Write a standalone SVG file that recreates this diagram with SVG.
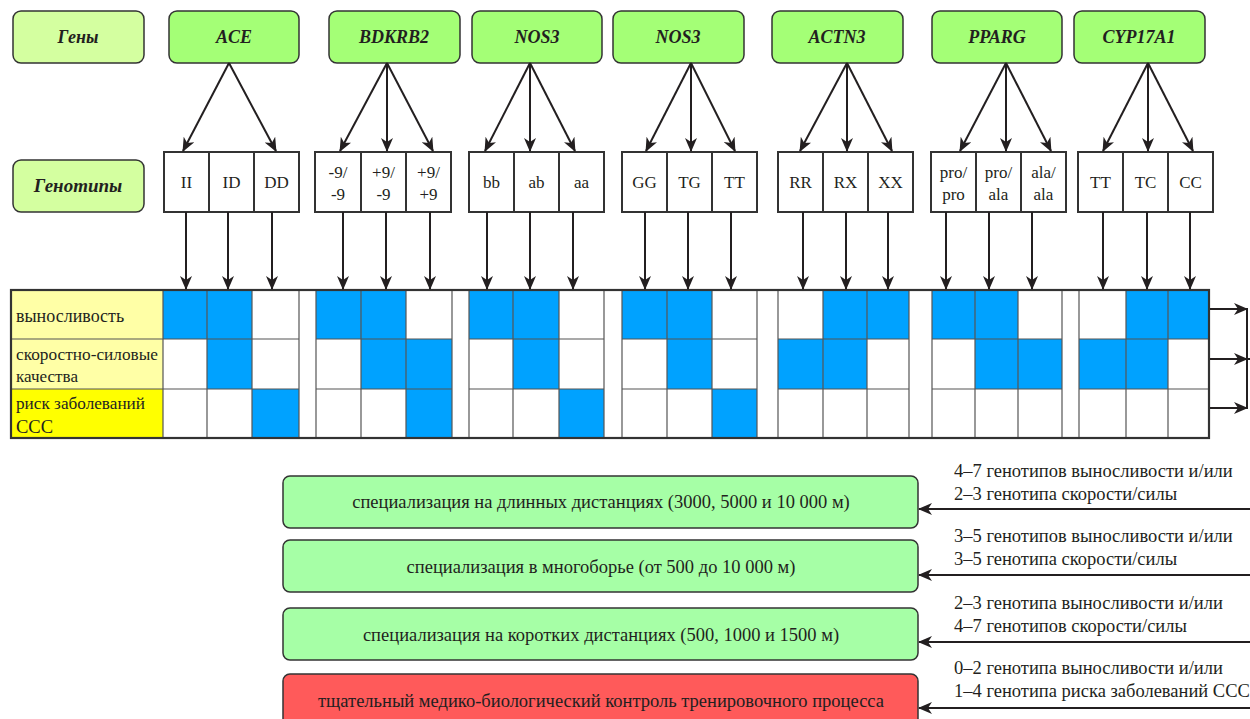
<svg xmlns="http://www.w3.org/2000/svg" width="1250" height="719" viewBox="0 0 1250 719">
<defs>
<marker id="ah" markerUnits="userSpaceOnUse" markerWidth="14" markerHeight="12" refX="13" refY="6" orient="auto">
<path d="M0,0 L14,6 L0,12 L4,6 Z" fill="#231f20"/>
</marker>
<style>
.gene{fill:#a4ff76;stroke:#333;stroke-width:1.5}
.lbl{fill:#d4ffa0;stroke:#333;stroke-width:1.5}
.gt{fill:#fff;stroke:#333;stroke-width:2}
.gn{font-family:"Liberation Serif",serif;font-weight:bold;font-style:italic;font-size:18px;fill:#231f20;text-anchor:middle}
.g{font-family:"Liberation Serif",serif;font-size:17px;fill:#231f20;text-anchor:middle}
.t{font-family:"Liberation Serif",serif;font-size:18.5px;fill:#231f20}
.r{font-family:"Liberation Serif",serif;font-size:17.5px;fill:#231f20}
.tc{font-family:"Liberation Serif",serif;font-size:18.5px;fill:#231f20;text-anchor:middle}
.b{fill:#00a2ff}
.cl{stroke:#555;stroke-width:1.2;fill:none}
.ar{stroke:#231f20;stroke-width:2;fill:none;marker-end:url(#ah)}
.ln{stroke:#231f20;stroke-width:2;fill:none}
.res{fill:#a6ffa6;stroke:#333;stroke-width:1.5}
.red{fill:#ff5a5a;stroke:#333;stroke-width:1.5}
</style>
</defs>
<rect width="1250" height="719" fill="#fff"/>

<g id="label-genes"><rect class="lbl" x="13" y="11" width="131" height="52" rx="8"/><text class="gn" x="78" y="43">Гены</text></g>
<g id="label-genotypes"><rect class="lbl" x="13" y="160" width="131" height="52" rx="8"/><text class="gn" x="78" y="192" style="font-size:19px">Генотипы</text></g>

<g id="gene-ACE"><rect class="gene" x="169" y="11" width="130" height="52" rx="8"/><text class="gn" x="234" y="43">ACE</text></g>
<g id="gene-BDKRB2"><rect class="gene" x="329" y="11" width="131" height="52" rx="8"/><text class="gn" x="394" y="43">BDKRB2</text></g>
<g id="gene-NOS3a"><rect class="gene" x="472" y="11" width="130" height="52" rx="8"/><text class="gn" x="537" y="43">NOS3</text></g>
<g id="gene-NOS3b"><rect class="gene" x="613" y="11" width="131" height="52" rx="8"/><text class="gn" x="678" y="43">NOS3</text></g>
<g id="gene-ACTN3"><rect class="gene" x="772" y="11" width="131" height="52" rx="8"/><text class="gn" x="837" y="43">ACTN3</text></g>
<g id="gene-PPARG"><rect class="gene" x="932" y="11" width="130" height="52" rx="8"/><text class="gn" x="997" y="43">PPARG</text></g>
<g id="gene-CYP17A1"><rect class="gene" x="1074" y="11" width="131" height="52" rx="8"/><text class="gn" x="1139" y="43">CYP17A1</text></g>

<g id="gt-ACE">
<rect class="gt" x="164" y="152" width="45" height="60"/><rect class="gt" x="209" y="152" width="45" height="60"/><rect class="gt" x="254" y="152" width="45" height="60"/>
<text class="g" x="186.5" y="188">II</text><text class="g" x="231.5" y="188">ID</text><text class="g" x="276.5" y="188">DD</text>
</g>
<g id="gt-BDKRB2">
<rect class="gt" x="315" y="152" width="46" height="60"/><rect class="gt" x="361" y="152" width="45" height="60"/><rect class="gt" x="406" y="152" width="45" height="60"/>
<text class="g" x="338" y="178">-9/</text><text class="g" x="338" y="200">-9</text>
<text class="g" x="383.5" y="178">+9/</text><text class="g" x="383.5" y="200">-9</text>
<text class="g" x="428.5" y="178">+9/</text><text class="g" x="428.5" y="200">+9</text>
</g>
<g id="gt-NOS3a">
<rect class="gt" x="469" y="152" width="45" height="60"/><rect class="gt" x="514" y="152" width="45" height="60"/><rect class="gt" x="559" y="152" width="45" height="60"/>
<text class="g" x="491.5" y="188">bb</text><text class="g" x="536.5" y="188">ab</text><text class="g" x="581.5" y="188">aa</text>
</g>
<g id="gt-NOS3b">
<rect class="gt" x="622" y="152" width="45" height="60"/><rect class="gt" x="667" y="152" width="45" height="60"/><rect class="gt" x="712" y="152" width="45" height="60"/>
<text class="g" x="644.5" y="188">GG</text><text class="g" x="689.5" y="188">TG</text><text class="g" x="734.5" y="188">TT</text>
</g>
<g id="gt-ACTN3">
<rect class="gt" x="778" y="152" width="45" height="60"/><rect class="gt" x="823" y="152" width="45" height="60"/><rect class="gt" x="868" y="152" width="45" height="60"/>
<text class="g" x="800.5" y="188">RR</text><text class="g" x="845.5" y="188">RX</text><text class="g" x="890.5" y="188">XX</text>
</g>
<g id="gt-PPARG">
<rect class="gt" x="931" y="152" width="45" height="60"/><rect class="gt" x="976" y="152" width="45" height="60"/><rect class="gt" x="1021" y="152" width="45" height="60"/>
<text class="g" x="953.5" y="178">pro/</text><text class="g" x="953.5" y="200">pro</text>
<text class="g" x="998.5" y="178">pro/</text><text class="g" x="998.5" y="200">ala</text>
<text class="g" x="1043.5" y="178">ala/</text><text class="g" x="1043.5" y="200">ala</text>
</g>
<g id="gt-CYP17A1">
<rect class="gt" x="1078" y="152" width="45" height="60"/><rect class="gt" x="1123" y="152" width="45" height="60"/><rect class="gt" x="1168" y="152" width="45" height="60"/>
<text class="g" x="1100.5" y="188">TT</text><text class="g" x="1145.5" y="188">TC</text><text class="g" x="1190.5" y="188">CC</text>
</g>

<g id="grid">
<rect x="11" y="290" width="152" height="49" fill="#ffffa6"/>
<rect x="11" y="339" width="152" height="50" fill="#ffffa6"/>
<rect x="11" y="389" width="152" height="49" fill="#ffff00"/>
<text class="r" x="16" y="322" style="font-size:18px">выносливость</text>
<text class="r" x="16" y="360" textLength="142" lengthAdjust="spacingAndGlyphs">скоростно-силовые</text>
<text class="r" x="16" y="382" textLength="62" lengthAdjust="spacingAndGlyphs">качества</text>
<text class="r" x="16" y="409" textLength="129" lengthAdjust="spacingAndGlyphs">риск заболеваний</text>
<text class="r" x="16" y="433" style="font-size:18.5px">ССС</text>
<!-- ACE -->
<rect class="b" x="163" y="290" width="44" height="49"/><rect class="b" x="207" y="290" width="45" height="49"/>
<rect class="b" x="207" y="339" width="45" height="50"/>
<rect class="b" x="252" y="389" width="47" height="49"/>
<!-- BDKRB2 -->
<rect class="b" x="316" y="290" width="45" height="49"/><rect class="b" x="361" y="290" width="45" height="49"/>
<rect class="b" x="361" y="339" width="45" height="50"/><rect class="b" x="406" y="339" width="46" height="50"/>
<rect class="b" x="406" y="389" width="46" height="49"/>
<!-- NOS3a -->
<rect class="b" x="469" y="290" width="44" height="49"/><rect class="b" x="513" y="290" width="46" height="49"/>
<rect class="b" x="513" y="339" width="46" height="50"/>
<rect class="b" x="559" y="389" width="45" height="49"/>
<!-- NOS3b -->
<rect class="b" x="622" y="290" width="45" height="49"/><rect class="b" x="667" y="290" width="45" height="49"/>
<rect class="b" x="667" y="339" width="45" height="50"/>
<rect class="b" x="712" y="389" width="45" height="49"/>
<!-- ACTN3 -->
<rect class="b" x="823" y="290" width="44" height="49"/><rect class="b" x="867" y="290" width="42" height="49"/>
<rect class="b" x="778" y="339" width="45" height="50"/><rect class="b" x="823" y="339" width="44" height="50"/>
<!-- PPARG -->
<rect class="b" x="932" y="290" width="43" height="49"/><rect class="b" x="975" y="290" width="43" height="49"/>
<rect class="b" x="975" y="339" width="43" height="50"/><rect class="b" x="1018" y="339" width="44" height="50"/>
<!-- CYP17A1 -->
<rect class="b" x="1126" y="290" width="42" height="49"/><rect class="b" x="1168" y="290" width="41" height="49"/>
<rect class="b" x="1079" y="339" width="47" height="50"/><rect class="b" x="1126" y="339" width="42" height="50"/>
<path class="cl" d="M11,339H299M316,339H452M469,339H604M622,339H757M778,339H909M932,339H1062M1079,339H1209
M11,389H299M316,389H452M469,389H604M622,389H757M778,389H909M932,389H1062M1079,389H1209"/>
<path class="cl" d="M163,290V438M207,290V438M252,290V438M299,290V438M316,290V438M361,290V438M406,290V438M452,290V438
M469,290V438M513,290V438M559,290V438M604,290V438M622,290V438M667,290V438M712,290V438M757,290V438
M778,290V438M823,290V438M867,290V438M909,290V438M932,290V438M975,290V438M1018,290V438M1062,290V438
M1079,290V438M1126,290V438M1168,290V438"/>
<rect x="11" y="290" width="1198" height="148" fill="none" stroke="#333" stroke-width="2.2"/>
</g>

<g id="res-long"><rect class="res" x="283" y="476" width="635" height="52" rx="7"/><text class="tc" x="601" y="508">специализация на длинных дистанциях (3000, 5000 и 10 000 м)</text></g>
<g id="res-multi"><rect class="res" x="283" y="540" width="635" height="52" rx="7"/><text class="tc" x="601" y="573">специализация в многоборье (от 500 до 10 000 м)</text></g>
<g id="res-short"><rect class="res" x="283" y="608" width="635" height="52" rx="7"/><text class="tc" x="601" y="641">специализация на коротких дистанциях (500, 1000 и 1500 м)</text></g>
<g id="res-control"><rect class="red" x="283" y="674" width="635" height="60" rx="7"/><text class="tc" x="601" y="707">тщательный медико-биологический контроль тренировочного процесса</text></g>

<g id="connectors">
<path class="ar" d="M229,63L183,151"/><path class="ar" d="M229,63L276,151"/>
<path class="ar" d="M387,63L340,151"/><path class="ar" d="M387,63V151"/><path class="ar" d="M387,63L433,151"/>
<path class="ar" d="M530,63L485,151"/><path class="ar" d="M530,63V151"/><path class="ar" d="M530,63L575,151"/>
<path class="ar" d="M691,63L646,151"/><path class="ar" d="M691,63V151"/><path class="ar" d="M691,63L735,151"/>
<path class="ar" d="M847,63L800,151"/><path class="ar" d="M847,63V151"/><path class="ar" d="M847,63L892,151"/>
<path class="ar" d="M1006,63L960,151"/><path class="ar" d="M1006,63V151"/><path class="ar" d="M1006,63L1051,151"/>
<path class="ar" d="M1148,63L1103,151"/><path class="ar" d="M1148,63V151"/><path class="ar" d="M1148,63L1193,151"/>

<path class="ar" d="M186,212V289"/><path class="ar" d="M228,212V289"/><path class="ar" d="M272,212V289"/>
<path class="ar" d="M343,212V289"/><path class="ar" d="M386,212V289"/><path class="ar" d="M430,212V289"/>
<path class="ar" d="M487,212V289"/><path class="ar" d="M530,212V289"/><path class="ar" d="M573,212V289"/>
<path class="ar" d="M645,212V289"/><path class="ar" d="M688,212V289"/><path class="ar" d="M731,212V289"/>
<path class="ar" d="M803,212V289"/><path class="ar" d="M846,212V289"/><path class="ar" d="M888,212V289"/>
<path class="ar" d="M946,212V289"/><path class="ar" d="M989,212V289"/><path class="ar" d="M1032,212V289"/>
<path class="ar" d="M1103,212V289"/><path class="ar" d="M1147,212V289"/><path class="ar" d="M1190,212V289"/>

<path class="ar" d="M1210,309H1247"/><path class="ar" d="M1210,359H1247"/><path class="ar" d="M1210,408H1247"/>
<path class="ln" d="M1247,308V409M1247,359H1250"/>

<path class="ar" d="M1250,509H919"/><path class="ar" d="M1250,575H919"/><path class="ar" d="M1250,642H919"/><path class="ar" d="M1250,708H919"/>
</g>

<g id="conditions">
<text class="t" x="954" y="477">4–7 генотипов выносливости и/или</text>
<text class="t" x="954" y="500">2–3 генотипа скорости/силы</text>
<text class="t" x="954" y="542">3–5 генотипов выносливости и/или</text>
<text class="t" x="954" y="565">3–5 генотипа скорости/силы</text>
<text class="t" x="954" y="609">2–3 генотипа выносливости и/или</text>
<text class="t" x="954" y="632">4–7 генотипов скорости/силы</text>
<text class="t" x="954" y="674">0–2 генотипа выносливости и/или</text>
<text class="t" x="954" y="697">1–4 генотипа риска заболеваний ССС</text>
</g>
</svg>
